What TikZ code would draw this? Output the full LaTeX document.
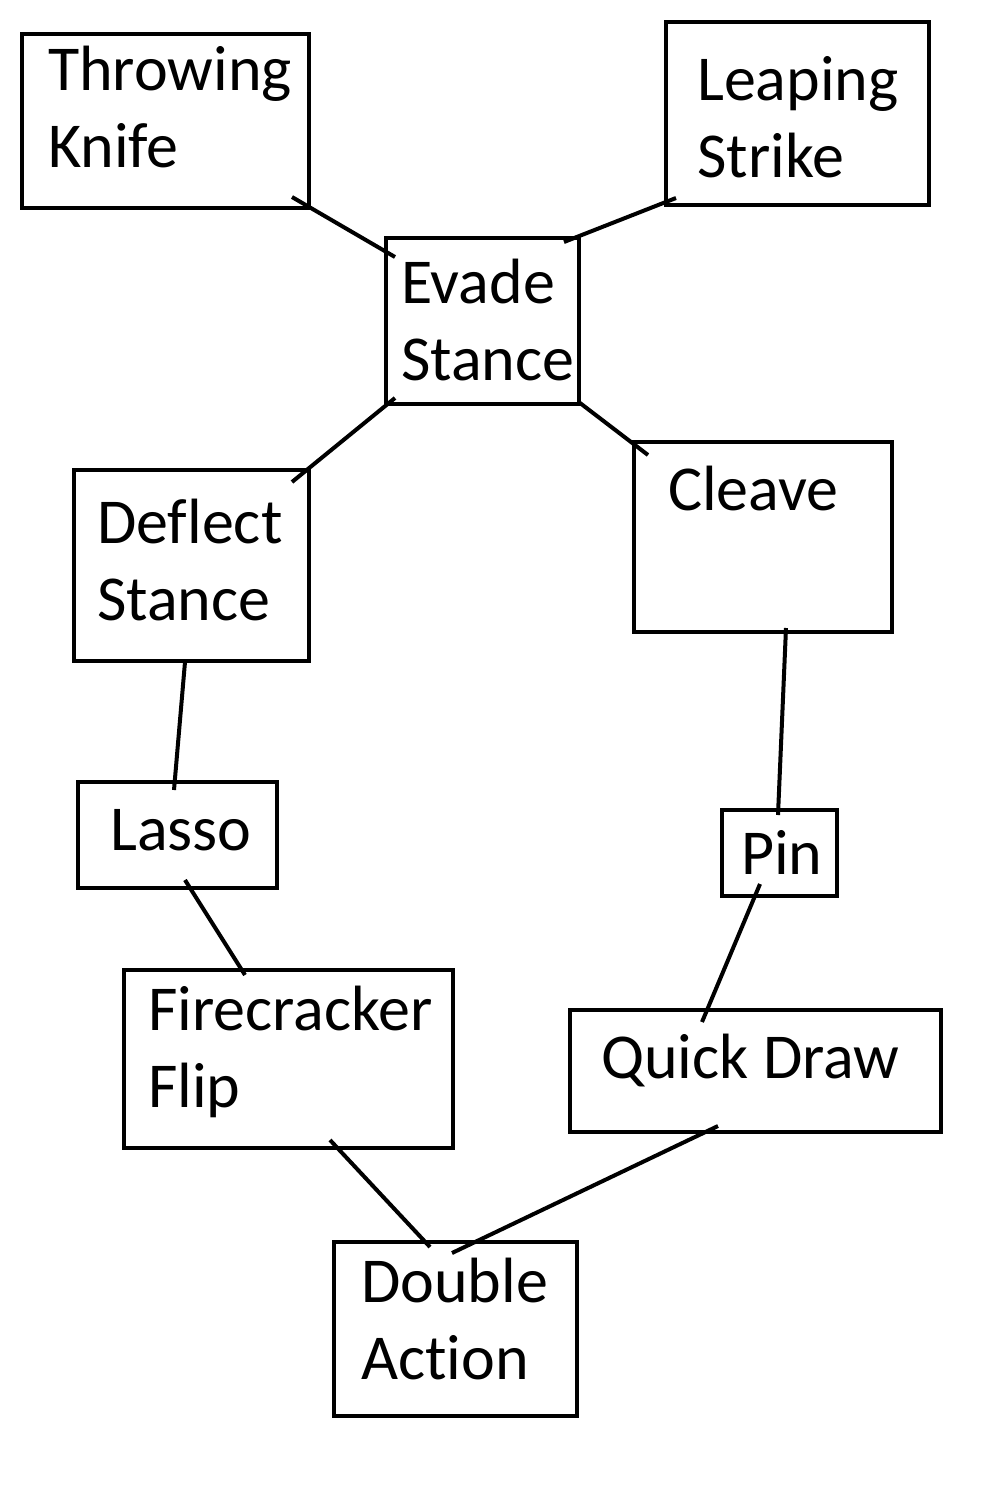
\documentclass[tikz,border=0pt]{standalone}
\usepackage{fontspec}
\setmainfont[Ligatures=NoCommon,RawFeature=-liga]{Carlito}
\begin{document}
\begin{tikzpicture}[x=1pt,y=-1pt,
  box/.style={draw=black,line width=4pt,inner sep=0pt,outer sep=0pt,anchor=north west},
  txt/.style={inner sep=0pt,anchor=base west,align=left,font=\fontsize{64}{77}\selectfont},
  link/.style={draw=black,line width=4pt}]
\useasboundingbox[fill=white] (0,0) rectangle (1000,1500);
% boxes
\node[box,minimum width=287pt,minimum height=174pt] (tk) at (22,34) {};
\node[box,minimum width=263pt,minimum height=183pt] (ls) at (666,22) {};
\node[box,minimum width=193pt,minimum height=166pt] (ev) at (386,238) {};
\node[box,minimum width=235pt,minimum height=191pt] (df) at (74,470) {};
\node[box,minimum width=258pt,minimum height=190pt] (cl) at (634,442) {};
\node[box,minimum width=199pt,minimum height=106pt] (la) at (78,782) {};
\node[box,minimum width=115pt,minimum height=86pt] (pin) at (722,810) {};
\node[box,minimum width=329pt,minimum height=178pt] (fc) at (124,970) {};
\node[box,minimum width=371pt,minimum height=122pt] (qd) at (570,1010) {};
\node[box,minimum width=243pt,minimum height=174pt] (da) at (334,1242) {};
% texts
\node[txt] (tkt) at (48,167) {Throwing\\Knife};
\node[txt] (lst) at (697,177) {Leaping\\Strike};
\node[txt] (evt) at (401,380) {Evade\\Stance};
\node[txt] (dft) at (97,620) {Deflect\\Stance};
\node[txt] (clt) at (668,510) {Cleave};
\node[txt] (lat) at (110,850) {Lasso};
\node[txt] (pint) at (741,874) {Pin};
\node[txt] (fct) at (148,1107) {Firecracker\\Flip};
\node[txt] (qdt) at (601,1078) {Quick Draw};
\node[txt] (dat) at (361,1379) {Double\\Action};
% connectors
\draw[link] ([shift={(-17,-11)}]tk.south east) -- ([shift={(9,19)}]ev.north west);
\draw[link] ([shift={(10,-7)}]ls.south west) -- ([shift={(-15,4)}]ev.north east);
\draw[link] ([shift={(9,-6)}]ev.south west) -- ([shift={(-17,12)}]df.north east);
\draw[link] ([shift={(1,-1)}]ev.south east) -- ([shift={(14,13)}]cl.north west);
\draw[link] ([shift={(-6.5,1)}]df.south) -- ([shift={(-3.5,8)}]la.north);
\draw[link] ([shift={(23,-4)}]cl.south) -- ([shift={(-1.5,5)}]pin.north);
\draw[link] ([shift={(7.5,-8)}]la.south) -- ([shift={(-43.5,5)}]fc.north);
\draw[link] ([shift={(-19.5,-12)}]pin.south) -- ([shift={(-53.5,12)}]qd.north);
\draw[link] ([shift={(41.5,-8)}]fc.south) -- ([shift={(-25.5,5)}]da.north);
\draw[link] ([shift={(-37.5,-6)}]qd.south) -- ([shift={(-3.5,11)}]da.north);
\end{tikzpicture}
\end{document}
